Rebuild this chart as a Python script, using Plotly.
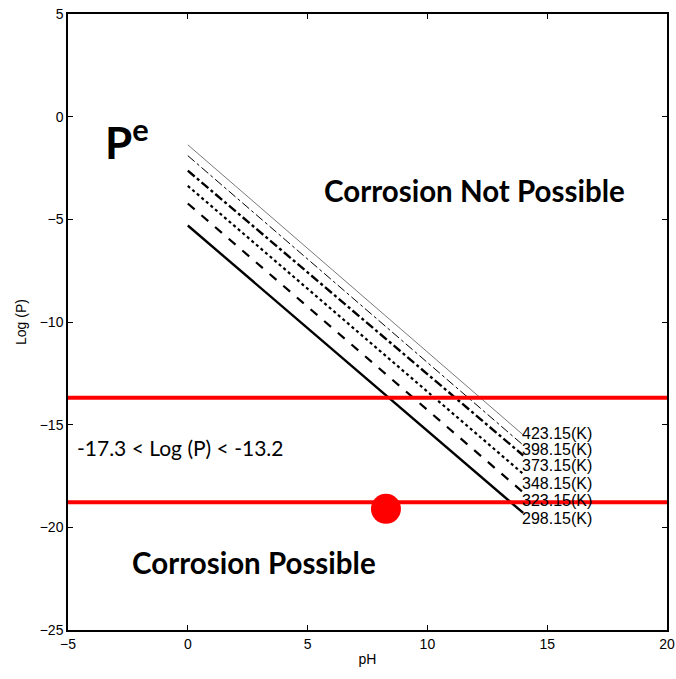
import plotly.graph_objects as go

temps = ["423.15(K)", "398.15(K)", "373.15(K)", "348.15(K)", "323.15(K)", "298.15(K)"]
ph_range = [0, 14]
logp_start = [-1.37, -1.9, -2.63, -3.37, -4.23, -5.3]
logp_end = [-15.5, -16.0, -16.5, -17.4, -18.3, -19.3]
label_y = [-15.45, -16.2, -16.97, -17.85, -18.68, -19.56]
dashes = ["solid", "dashdot", "dashdot", "dot", "dash", "solid"]
widths = [0.8, 1.0, 2.4, 2.2, 2.2, 2.4]
colors = ["#555555", "black", "black", "black", "black", "black"]

red_levels = [-13.69, -18.78]
point_ph = [8.27]
point_logp = [-19.1]

fig = go.Figure()
for t, s, e, d, w, c in zip(temps, logp_start, logp_end, dashes, widths, colors):
    fig.add_trace(go.Scatter(x=ph_range, y=[s, e], mode="lines",
                             line=dict(color=c, width=w, dash=d), showlegend=False, name=t))
for lv in red_levels:
    fig.add_trace(go.Scatter(x=[-5, 20], y=[lv, lv], mode="lines",
                             line=dict(color="#ff0000", width=4), showlegend=False, cliponaxis=False))
fig.add_trace(go.Scatter(x=point_ph, y=point_logp, mode="markers",
                         marker=dict(color="#ff0000", size=30), showlegend=False))

for t, ly in zip(temps, label_y):
    fig.add_annotation(x=13.85, y=ly, text=t, showarrow=False, xanchor="left", yanchor="middle",
                       font=dict(family="Liberation Sans", size=16, color="black"))

fig.add_annotation(x=-3.55, y=-1.1, text="<b>P<sup>e</sup></b>", showarrow=False,
                   xanchor="left", yanchor="middle",
                   font=dict(family="Lato", size=44, color="black"))
fig.add_annotation(x=11.95, y=-3.6, text="<b>Corrosion Not Possible</b>", showarrow=False,
                   font=dict(family="Lato", size=29.5, color="black"))
fig.add_annotation(x=2.75, y=-21.7, text="<b>Corrosion Possible</b>", showarrow=False,
                   font=dict(family="Lato", size=29.5, color="black"))
fig.add_annotation(x=-4.7, y=-16.1, text="-17.3 < Log (P) < -13.2", showarrow=False,
                   xanchor="left", font=dict(family="Lato", size=21, color="black"))

axis_common = dict(showgrid=False, zeroline=False, showline=True, linecolor="black", linewidth=1.5,
                   mirror="ticks", ticks="inside", ticklen=5, tickcolor="black", automargin=False,
                   tickfont=dict(family="Liberation Sans", size=14, color="black"))
fig.update_xaxes(range=[-5, 20], tickvals=[-5, 0, 5, 10, 15, 20], ticklabeloverflow="allow",
                 title=dict(text="pH", font=dict(family="Liberation Sans", size=14, color="black"), standoff=4),
                 **axis_common)
fig.update_yaxes(range=[-25, 5], tickvals=[-25, -20, -15, -10, -5, 0, 5],
                 title=dict(text="Log (P)", font=dict(family="Liberation Sans", size=14, color="black"), standoff=10),
                 **axis_common)
fig.update_layout(width=676, height=679, margin=dict(l=68, r=9, t=14, b=49),
                  plot_bgcolor="white", paper_bgcolor="white")
fig.write_html("out.html")
